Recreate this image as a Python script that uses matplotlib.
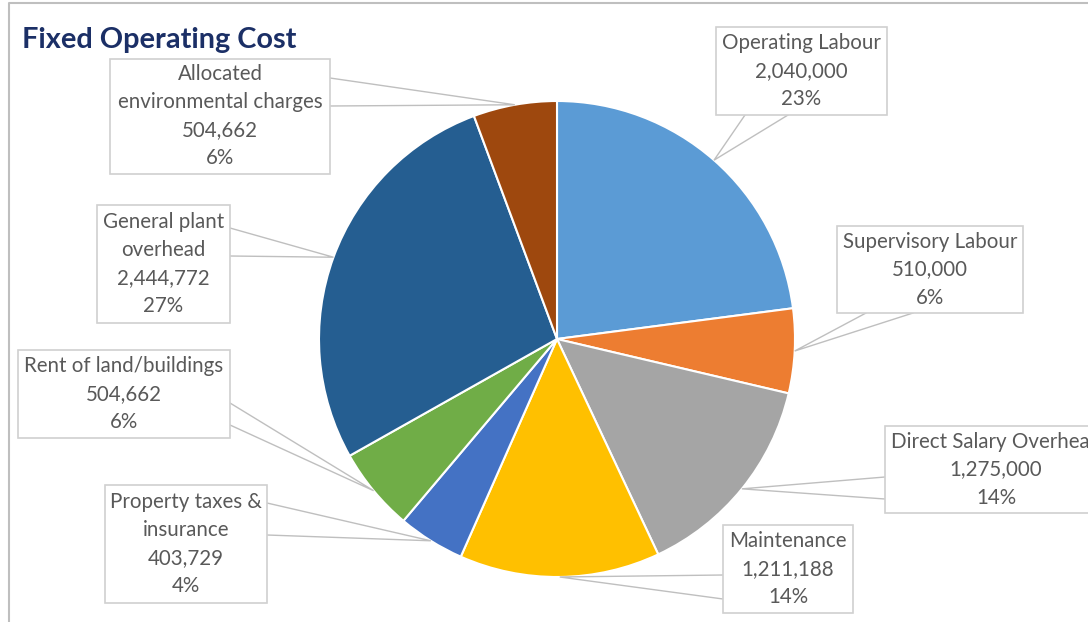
import numpy as np
import matplotlib.pyplot as plt
from matplotlib.patches import Rectangle

# Fixed operating cost breakdown
categories = ['Operating Labour', 'Supervisory Labour', 'Direct Salary Overhead',
              'Maintenance', 'Property taxes &\ninsurance', 'Rent of land/buildings',
              'General plant\noverhead', 'Allocated\nenvironmental charges']
costs = [2040000, 510000, 1275000, 1211188, 403729, 504662, 2444772, 504662]
pct_labels = ['23%', '6%', '14%', '14%', '4%', '6%', '27%', '6%']
colors = ['#5B9BD5', '#ED7D31', '#A5A5A5', '#FFC000',
          '#4472C4', '#70AD47', '#255E91', '#9E480E']

W, H = 1088, 622

# label boxes (left, top, right, bottom) in pixels from top-left,
# plus the two points where the callout leaves the box
boxes = [
    ((716, 27, 887, 115), [(745, 115), (788, 115)]),
    ((837, 226, 1023, 313), [(866, 313), (913, 313)]),
    ((885, 426, 1107, 513), [(885, 477), (885, 499)]),
    ((723, 525, 853, 613), [(723, 575), (723, 599)]),
    ((105, 485, 267, 603), [(267, 503), (267, 535)]),
    ((18, 350, 230, 438), [(230, 403), (230, 425)]),
    ((97, 205, 230, 323), [(230, 228), (230, 256)]),
    ((110, 59, 330, 174), [(330, 78), (330, 106)]),
]

plt.rcParams['font.family'] = ['Lato', 'DejaVu Sans']

fig = plt.figure(figsize=(W / 100, H / 100), dpi=100)
ax = fig.add_axes([0, 0, 1, 1])

cx, cy, r = 557, H - 339, 238
wedges, _ = ax.pie(costs, colors=colors, startangle=90, counterclock=False,
                   center=(cx, cy), radius=r,
                   wedgeprops=dict(edgecolor='white', linewidth=1.5))

ax.set_xlim(0, W)
ax.set_ylim(0, H)
ax.set_aspect('equal')
ax.axis('off')

for w, cat, val, pct, (box, base) in zip(wedges, categories, costs, pct_labels, boxes):
    x0, y0, x1, y1 = box
    ax.add_patch(Rectangle((x0, H - y1), x1 - x0, y1 - y0, facecolor='white',
                           edgecolor='#D0D0D0', linewidth=1.2, zorder=3))
    ax.text((x0 + x1) / 2, H - (y0 + y1) / 2, f'{cat}\n{val:,}\n{pct}',
            ha='center', va='center', color='#595959', fontsize=14.8,
            linespacing=1.5, zorder=4)
    # callout pointing at the middle of the wedge rim
    mid = np.deg2rad((w.theta1 + w.theta2) / 2)
    tx, ty = cx + r * np.cos(mid), cy + r * np.sin(mid)
    (bx1, by1), (bx2, by2) = base
    ax.plot([bx1, tx, bx2], [H - by1, ty, H - by2], color='#BFBFBF',
            linewidth=1.0, zorder=2, solid_joinstyle='miter')

ax.text(22, H - 40, 'Fixed Operating Cost', ha='left', va='center',
        fontsize=20.8, fontweight='bold', color='#1B2F66')

# chart area border (top and left edges)
ax.plot([9, 9, W], [0, H - 3, H - 3], color='#BFBFBF', linewidth=1.5,
        clip_on=False)

fig.savefig('out.png', dpi=100)
